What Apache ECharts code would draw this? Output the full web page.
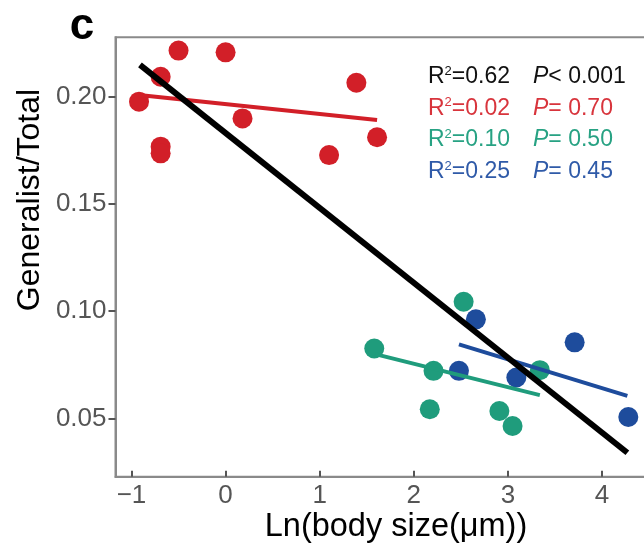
<!DOCTYPE html>
<html><head><meta charset="utf-8">
<script src="https://cdn.jsdelivr.net/npm/echarts@6/dist/echarts.min.js"></script>
<style>html,body{margin:0;padding:0;background:#fff}#c{width:644px;height:544px}</style>
</head><body><div id="c"></div>
<script>
// ---- data ----
const redX = [-0.50, 0.00, -0.69, -0.92, 0.18, 1.39, 1.61, -0.69, -0.69, 1.10];
const redY = [0.2215, 0.2207, 0.2093, 0.1977, 0.1899, 0.2065, 0.1811, 0.1767, 0.1736, 0.1728];
const tealX = [2.53, 1.58, 2.21, 2.17, 2.91, 3.05, 3.34];
const tealY = [0.1044, 0.0826, 0.0722, 0.0543, 0.0535, 0.0465, 0.0725];
const blueX = [2.66, 3.71, 2.48, 3.09, 4.28];
const blueY = [0.0962, 0.0855, 0.0722, 0.0691, 0.0507];
const redFitX = [-0.92, 1.61], redFitY = [0.2008, 0.1891];
const tealFitX = [1.59, 3.34], tealFitY = [0.0800, 0.0609];
const blueFitX = [2.48, 4.27], blueFitY = [0.0845, 0.0605];
const allFitX = [-0.91, 4.27], allFitY = [0.2148, 0.0340];
const xTicks = [-1, 0, 1, 2, 3, 4];
const yTicks = [0.05, 0.10, 0.15, 0.20];
const r2Labels = ['0.62', '0.02', '0.10', '0.25'];
const pLabels = ['< 0.001', '= 0.70', '= 0.50', '= 0.45'];
const panelLabel = 'c';
const xTitle = 'Ln(body size(μm))';
const yTitle = 'Generalist/Total';

// ---- styles ----
const RED = '#d21f28', TEAL = '#1f9c7c', BLUE = '#1e4c9c', BLACK = '#000';
const statColors = ['#111111', '#d8343c', '#27a283', '#2f5aa8'];
const FONT = '"Liberation Sans", Arial, Helvetica, sans-serif';
const zip = (a, b) => a.map((v, i) => [v, b[i]]);

const chart = echarts.init(document.getElementById('c'), null, {renderer: 'canvas'});
const legendRows = [76.7, 108.3, 140, 171.7];
const graphics = [
  {type: 'text', x: 82, y: 27, style: {text: panelLabel, font: 'bold 44px ' + FONT, fill: '#000', textAlign: 'center', textVerticalAlign: 'middle'}},
  {type: 'text', x: 30, y: 200, rotation: Math.PI / 2, style: {text: yTitle, font: '32px ' + FONT, fill: '#000', textAlign: 'center', textVerticalAlign: 'middle'}},
  {type: 'text', x: 396, y: 527, style: {text: xTitle, font: '32.5px ' + FONT, fill: '#000', textAlign: 'center', textVerticalAlign: 'middle'}}
];
legendRows.forEach((yy, i) => {
  graphics.push({type: 'text', x: 428, y: yy, style: {
    text: '{r|R}{s|2}{r|=' + r2Labels[i] + '}', fill: statColors[i], textVerticalAlign: 'middle',
    rich: {r: {fontSize: 23, fontFamily: FONT, fill: statColors[i], lineHeight: 24},
           s: {fontSize: 13, fontFamily: FONT, fill: statColors[i], verticalAlign: 'top', lineHeight: 24}}}});
  graphics.push({type: 'text', x: 533, y: yy, style: {
    text: '{i|P}{r|' + pLabels[i] + '}', fill: statColors[i], textVerticalAlign: 'middle',
    rich: {i: {fontSize: 23, fontFamily: FONT, fontStyle: 'italic', fill: statColors[i], lineHeight: 24},
           r: {fontSize: 23, fontFamily: FONT, fill: statColors[i], lineHeight: 24}}}});
});

const scat = (name, x, y, color) => ({type: 'scatter', name, data: zip(x, y), symbolSize: 20, itemStyle: {color, opacity: 1}, z: 2});
const fit = (name, x, y, color, w) => ({type: 'line', name, data: zip(x, y), symbol: 'none', lineStyle: {color, width: w}, z: 3});

chart.setOption({
  animation: false,
  grid: {left: 115.5, top: 37.3, width: 533.5, height: 439.5, outerBoundsMode: 'none', containLabel: false,
    show: true, borderColor: '#8a8a8a', borderWidth: 2, backgroundColor: 'transparent'},
  xAxis: {type: 'value', min: -1.17, max: 4.5,
    axisLine: {onZero: false, lineStyle: {color: '#8a8a8a', width: 2}},
    axisTick: {inside: true, length: 6, customValues: xTicks, lineStyle: {color: '#555', width: 2}},
    axisLabel: {customValues: xTicks, fontSize: 26, fontFamily: FONT, color: '#555', margin: 6,
      formatter: v => v < 0 ? '\u2212' + Math.abs(v) : String(v)},
    splitLine: {show: false}},
  yAxis: {type: 'value', min: 0.0228, max: 0.2277,
    axisLine: {onZero: false, lineStyle: {color: '#8a8a8a', width: 2}},
    axisTick: {inside: false, length: 7, customValues: yTicks, lineStyle: {color: '#555', width: 2}},
    axisLabel: {customValues: yTicks, fontSize: 26, fontFamily: FONT, color: '#555', margin: 9,
      formatter: v => v.toFixed(2)},
    splitLine: {show: false}},
  series: [
    scat('red', redX, redY, RED),
    scat('teal', tealX, tealY, TEAL),
    scat('blue', blueX, blueY, BLUE),
    fit('redFit', redFitX, redFitY, RED, 4),
    fit('tealFit', tealFitX, tealFitY, TEAL, 4),
    fit('blueFit', blueFitX, blueFitY, BLUE, 4),
    fit('allFit', allFitX, allFitY, BLACK, 6)
  ],
  graphic: graphics
});
</script></body></html>
